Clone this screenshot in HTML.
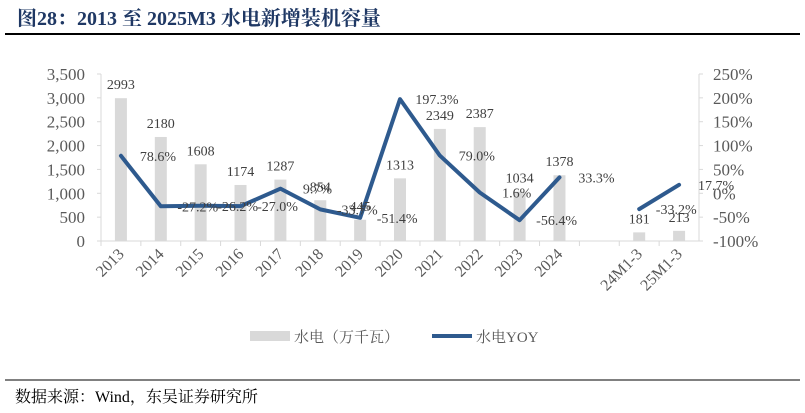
<!DOCTYPE html>
<html><head><meta charset="utf-8"><style>
body{margin:0;background:#fff;width:805px;height:413px;overflow:hidden}
svg{display:block}
</style></head><body>
<svg width="805" height="413" xmlns="http://www.w3.org/2000/svg" font-family="'Liberation Serif','Noto Serif CJK SC',serif">
<text x="17" y="25" font-size="20" font-weight="bold" fill="#1f3864">图28：2013 至 2025M3 水电新增装机容量</text>
<line x1="5" y1="34" x2="800" y2="34" stroke="#000" stroke-width="2"/>
<g id="axes"></g>
<g id="bars"></g>
<g id="line"></g>
<g id="labels"></g>
<g>
<rect x="250" y="331" width="40" height="10" fill="#d9d9d9"/>
<text x="294" y="342" font-size="15" fill="#595959">水电（万千瓦）</text>
<line x1="432" y1="336" x2="472" y2="336" stroke="#2e5a8e" stroke-width="4"/>
<text x="476" y="342" font-size="15" fill="#595959">水电YOY</text>
</g>
<line x1="5" y1="380" x2="800" y2="380" stroke="#000" stroke-width="1"/>
<text x="15" y="402" font-size="16" fill="#000">数据来源：Wind，东吴证券研究所</text>
</svg>
<script>
const categories=["2013","2014","2015","2016","2017","2018","2019","2020","2021","2022","2023","2024","","24M1-3","25M1-3"];
const capacity=[2993,2180,1608,1174,1287,854,445,1313,2349,2387,1034,1378,null,181,213];
const yoy=[78.6,-27.2,-26.2,-27.0,9.7,-33.7,-51.4,197.3,79.0,1.6,-56.4,33.3,null,-33.2,17.7];
const leftTicks=[0,500,1000,1500,2000,2500,3000,3500];
const rightTicks=[-100,-50,0,50,100,150,200,250];
const NS="http://www.w3.org/2000/svg";
const X0=101,X1=699,Y0=241,Y1=74,step=(X1-X0)/categories.length;
const xc=i=>X0+step*(i+0.5);
const yl=v=>Y0-(v/3500)*(Y0-Y1);
const yr=v=>Y0-((v+100)/350)*(Y0-Y1);
function mk(tag,attrs,parent,txt){const e=document.createElementNS(NS,tag);for(const k in attrs)e.setAttribute(k,attrs[k]);if(txt!=null)e.textContent=txt;parent.appendChild(e);return e;}
const axes=document.getElementById('axes'),bars=document.getElementById('bars'),lineG=document.getElementById('line'),labels=document.getElementById('labels');
let e=mk('line',{x1:X0,y1:Y1,x2:X0,y2:Y0,stroke:'#d9d9d9'},axes);


e=mk('line',{x1:X1,y1:Y1,x2:X1,y2:Y0,stroke:'#d9d9d9'},axes);


e=mk('line',{x1:X0,y1:Y0,x2:X1,y2:Y0,stroke:'#d9d9d9'},axes);


leftTicks.forEach(v=>{
  mk('line',{x1:X0-4,y1:yl(v),x2:X0,y2:yl(v),stroke:'#d9d9d9'},axes);
  const t=mk('text',{x:X0-16,y:yl(v)+6,'font-size':17,fill:'#595959','text-anchor':'end'},axes,v.toLocaleString('en-US'));
  
  
});
rightTicks.forEach(v=>{
  mk('line',{x1:X1,y1:yr(v),x2:X1+4,y2:yr(v),stroke:'#d9d9d9'},axes);
  const t=mk('text',{x:X1+14,y:yr(v)+6,'font-size':17,fill:'#595959'},axes,v+'%');
  
  
});
categories.forEach((c,i)=>{
  mk('line',{x1:X0+step*i,y1:Y0,x2:X0+step*i,y2:Y0+5,stroke:'#d9d9d9'},axes);
  if(c){const x=xc(i)+4,y=Y0+14;
    const t=mk('text',{x:x,y:y,'font-size':16,fill:'#595959','text-anchor':'end',transform:`rotate(-45 ${x} ${y})`},axes,c);
    
    }
});
capacity.forEach((v,i)=>{
  if(v==null)return;
  const r=mk('rect',{x:xc(i)-6,y:yl(v),width:12,height:Y0-yl(v),fill:'#d9d9d9'},bars);
  
  
  const t=mk('text',{x:xc(i),y:yl(v)-9,'font-size':14,fill:'#404040','text-anchor':'middle'},labels,String(v));
  
  
});
let segs=[],cur=[];
yoy.forEach((v,i)=>{if(v==null){if(cur.length)segs.push(cur);cur=[];}else cur.push([xc(i),yr(v)]);});
if(cur.length)segs.push(cur);
segs.forEach(s=>{
  const p=mk('polyline',{points:s.map(q=>q.join(',')).join(' '),fill:'none',stroke:'#2e5a8e','stroke-width':4,'stroke-linejoin':'round','stroke-linecap':'round'},lineG);
  
  
});
yoy.forEach((v,i)=>{
  if(v==null)return;
  const t=mk('text',{x:xc(i)+37,y:yr(v)+5,'font-size':14,fill:'#404040','text-anchor':'middle'},labels,v.toFixed(1)+'%');
  
  
});
</script>
</body></html>
